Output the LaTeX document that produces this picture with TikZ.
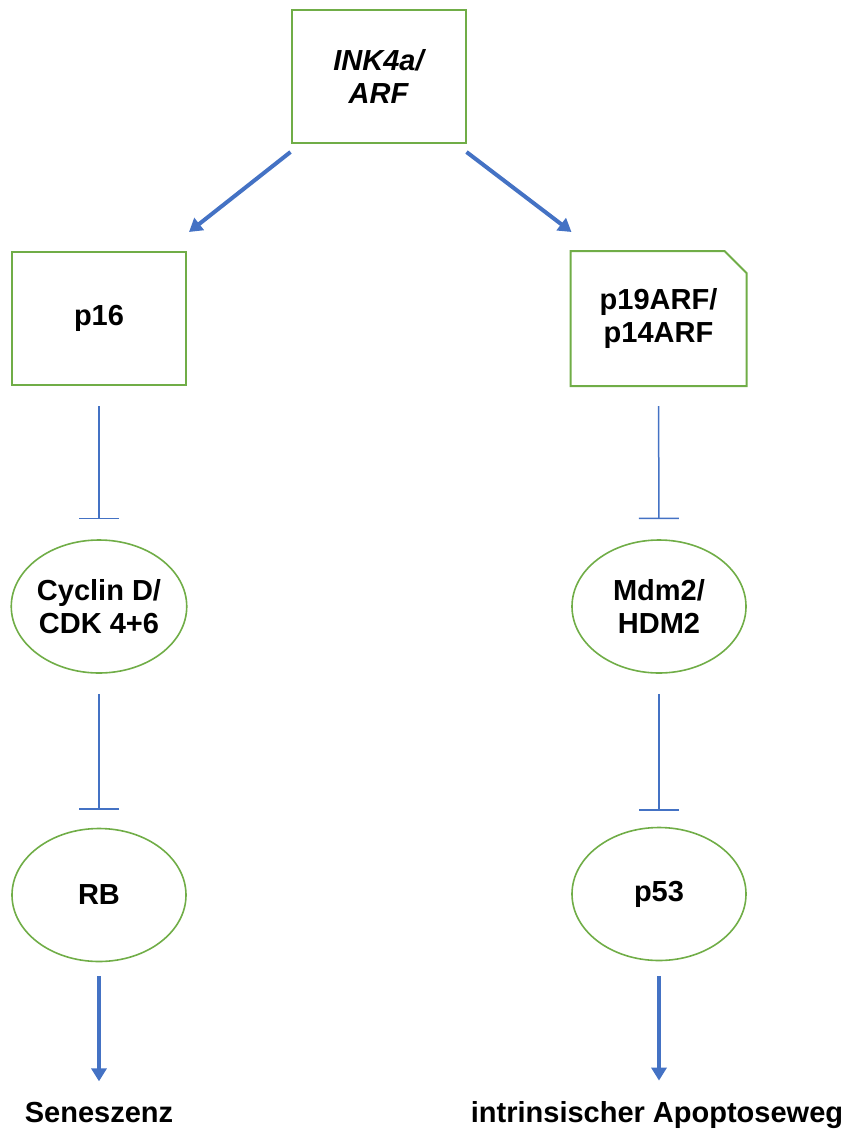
\documentclass[tikz,border=0pt]{standalone}
\usepackage{fontspec}
\setmainfont{Liberation Sans}
\usetikzlibrary{shapes.geometric}
\usetikzlibrary{arrows.meta}
\definecolor{leafgreen}{RGB}{112,173,71}
\definecolor{pathblue}{RGB}{68,114,196}

\begin{document}
\begin{tikzpicture}[x=0.5pt,y=-0.5pt,
  box/.style={draw=leafgreen,line width=1pt,minimum width=87pt,minimum height=66.5pt,
    inner sep=0pt,align=center,font=\fontsize{14.5}{16.5}\selectfont\bfseries},
  oval/.style={ellipse,draw=leafgreen,line width=0.8pt,minimum width=87pt,minimum height=66.5pt,
    inner sep=0pt,align=center,font=\fontsize{14.5}{16.5}\selectfont\bfseries},
  inhib/.style={draw=pathblue,line width=0.75pt,-{Bar[width=20pt]}},
  act/.style={draw=pathblue,line width=2pt,-{Triangle[width=7.5pt,length=6.5pt]}},
  endtext/.style={inner sep=0pt,anchor=base,font=\fontsize{14.5}{16.5}\selectfont\bfseries}]
\useasboundingbox (0,0) rectangle (845,1140);

% top gene
\node[box,font=\fontsize{14.5}{16.5}\selectfont\bfseries\itshape] (ink) at (378.5,76.5) {INK4a/\\ARF};

% left branch
\node[box] (p16) at (99,318.5) {p16};
\node[oval] (cyc) at (99,606.5) {Cyclin D/\\CDK 4+6};
\node[oval] (rb) at (99,895) {RB};
\node[endtext] (sen) at (99,1122) {Seneszenz};

% right branch
\node[box,draw=none] (p19) at (658.5,318.5) {p19ARF/\\p14ARF};
\draw[leafgreen,line width=1pt] (p19.south west) |- ([xshift=-11pt]p19.north east)
  -- ([yshift=-11pt]p19.north east) |- cycle;
\node[oval] (mdm) at (659,606.5) {Mdm2/\\HDM2};
\node[oval] (p53) at (659,894) {p53};
\node[endtext] (apo) at (657,1122) {intrinsischer Apoptoseweg};

% arrows
\draw[act] ([yshift=-4pt]ink.south west) -- ([xshift=1pt,yshift=9.5pt]p16.north east);
\draw[act] ([yshift=-4pt]ink.south east) -- ([xshift=0.5pt,yshift=9.5pt]p19.north west);

\draw[inhib,shorten <=10pt,shorten >=10pt] (p16) -- (cyc);
\draw[inhib,shorten <=10pt,shorten >=9pt] (cyc) -- (rb);
\draw[inhib,shorten <=10pt,shorten >=10pt] (p19) -- (mdm);
\draw[inhib,shorten <=10pt,shorten >=8pt] (mdm) -- (p53);

\draw[act,shorten <=7pt,shorten >=10pt] (rb) -- (sen);
\draw[act,shorten <=7.5pt,shorten >=10pt] (p53) -- (p53 |- apo.north);

\end{tikzpicture}
\end{document}
